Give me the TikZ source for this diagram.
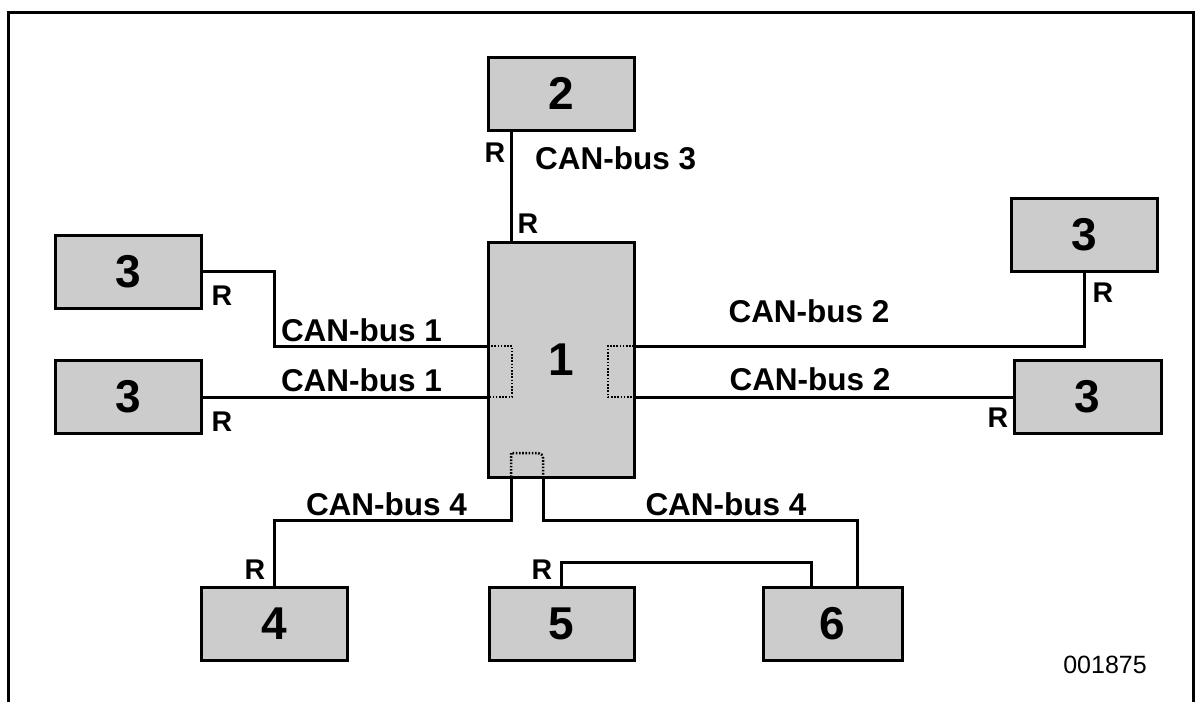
\documentclass[tikz,border=0pt]{standalone}
\usepackage{fontspec}
\setmainfont{Liberation Sans}
\begin{document}
\begin{tikzpicture}[x=1pt,y=-1pt,
  unit/.style={draw=black,fill=black!20,line width=3pt,inner sep=0pt,outer sep=0pt,
     minimum width=146pt,minimum height=73pt,font=\fontsize{46}{50}\selectfont\bfseries},
  bus/.style={line width=3pt,line cap=rect},
  port/.style={line width=2.5pt,dash pattern=on 1.6pt off 1.6pt},
  lbl/.style={inner sep=0pt,font=\fontsize{31.5}{34}\selectfont\bfseries},
  rlbl/.style={inner sep=0pt,font=\fontsize{28.5}{32}\selectfont\bfseries}]
\useasboundingbox (0,0) rectangle (1201,702);
% frame
\draw[line width=3pt] (8,702) -- (8,12) -- (1193,12) -- (1193,702);
% units
\node[unit,minimum height=235pt] (u1) at (561,359.5) {1};
\node[unit] (u2) at (561,93.5) {2};
\node[unit] (u3a) at (128.5,271.5) {3};
\node[unit] (u3b) at (128.5,397) {3};
\node[unit] (u3c) at (1084,234.5) {3};
\node[unit,minimum width=147pt] (u3d) at (1087.5,397) {3};
\node[unit] (u4) at (274,623.5) {4};
\node[unit,minimum width=145pt] (u5) at (561.5,623.5) {5};
\node[unit,minimum width=139pt] (u6) at (832.5,623.5) {6};
% ports on unit 1
\coordinate (L1) at (488,346);
\coordinate (L2) at (488,397);
\coordinate (P1) at (634,346);
\coordinate (P2) at (634,397);
\coordinate (T1) at (511,242);
\coordinate (B1) at (511,477);
\coordinate (B2) at (543,477);
% dotted internal ports
\draw[port] (L1) -- ++(24,0) -- ++(0,51) -- (L2);
\draw[port] (P1) -- ++(-26,0) -- ++(0,51) -- (P2);
\draw[port] (B1) -- ++(0,-24) [rounded corners=5pt] -- ++(32,0) [sharp corners] -- (B2);
% buses
\draw[bus] (u2.south -| T1) -- (T1);
\draw[bus] (u3a.east) -- ++(73,0) |- (L1);
\draw[bus] (u3b.east) -- (L2);
\draw[bus] (u3c.south) |- (P1);
\draw[bus] (u3d.west) -- (P2);
\draw[bus] (B1) -- ++(0,43) -| (u4.north);
\draw[bus] (B2) -- ++(0,43) -| ([xshift=24.5pt]u6.north);
\draw[bus] (u5.north) -- ++(0,-25) -| ([xshift=-21.5pt]u6.north);
% labels
\node[rlbl] (r2a) at (495,153) {R};
\node[rlbl] (r2b) at (528,224) {R};
\node[lbl,anchor=west] (c3) at (535,158) {CAN-bus 3};
\node[rlbl] (r3a) at (222,296) {R};
\node[rlbl] (r3b) at (222,422) {R};
\node[lbl] (c1a) at (361.5,330) {CAN-bus 1};
\node[lbl] (c1b) at (361.5,380) {CAN-bus 1};
\node[lbl] (c2a) at (809,311) {CAN-bus 2};
\node[lbl] (c2b) at (810,379) {CAN-bus 2};
\node[rlbl] (r3c) at (1103,293) {R};
\node[rlbl] (r3d) at (998,418) {R};
\node[lbl] (c4a) at (386.5,504) {CAN-bus 4};
\node[lbl] (c4b) at (726,504) {CAN-bus 4};
\node[rlbl] (r4) at (255,570) {R};
\node[rlbl] (r5) at (542,570) {R};
\node[inner sep=0pt,font=\fontsize{25}{28}\selectfont] (id) at (1105,665) {001875};
\end{tikzpicture}
\end{document}
